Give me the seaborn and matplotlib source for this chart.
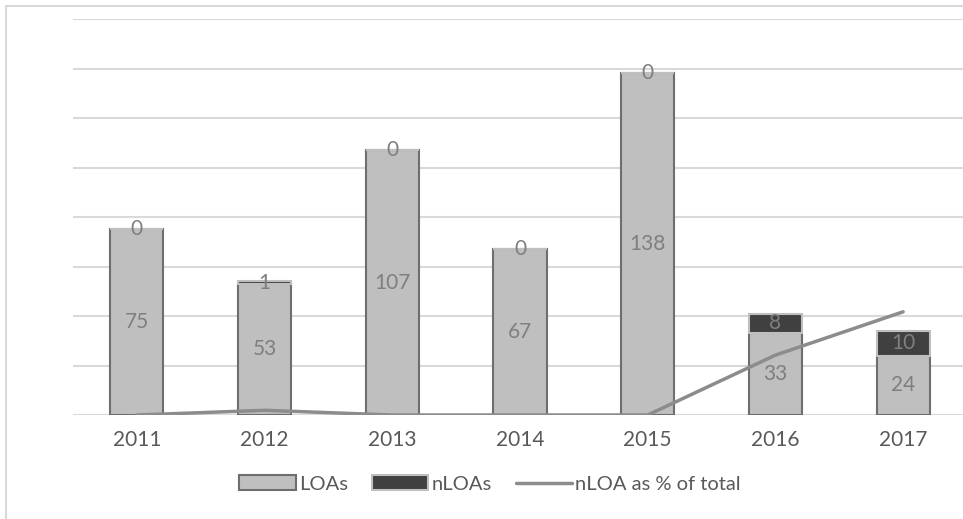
import numpy as np
import pandas as pd
import seaborn as sns
import matplotlib.pyplot as plt
from matplotlib.patches import Patch, Rectangle
from matplotlib.lines import Line2D

years = ["2011", "2012", "2013", "2014", "2015", "2016", "2017"]
loas = [75, 53, 107, 67, 138, 33, 24]
nloas = [0, 1, 0, 0, 0, 8, 10]
nloa_pct = [0, 1.9, 0, 0, 0, 24.2, 41.7]

df = pd.DataFrame({"year": years, "LOAs": loas, "nLOAs": nloas, "pct": nloa_pct})

sns.set_style("white")
plt.rcParams["font.family"] = ["Lato", "DejaVu Sans"]

fig = plt.figure(figsize=(9.63, 5.19), dpi=100)
ax = fig.add_axes([73 / 963, 1 - 415 / 519, 894 / 963, 396 / 519])

# outer chart frame
fig.patches.append(Rectangle((6 / 963, -0.02), 1.0, 1 - 6 / 519 + 0.02,
                             transform=fig.transFigure, fill=False,
                             edgecolor="#d9d9d9", lw=1.5))

sns.barplot(data=df, x="year", y="LOAs", color="#bfbfbf", width=0.415,
            edgecolor="#6e6e6e", linewidth=1.5, ax=ax, zorder=3, saturation=1)
sns.barplot(data=df, x="year", y="nLOAs", bottom=df["LOAs"], color="#404040",
            width=0.415, edgecolor="#bfbfbf", linewidth=1.5, ax=ax, zorder=3,
            saturation=1)
sns.lineplot(data=df, x="year", y="pct", color="#8c8c8c", lw=2.5, ax=ax,
             zorder=4, sort=False)

# data labels
for i in range(len(years)):
    ax.text(i, loas[i] / 2, str(loas[i]), ha="center", va="center",
            fontsize=15, color="#7f7f7f", zorder=5)
    ax.text(i, loas[i] + nloas[i] / 2, str(nloas[i]), ha="center",
            va="center", fontsize=15, color="#7f7f7f", zorder=5)

ax.set_ylim(0, 160)
ax.set_xlim(-0.5, 6.5)
ax.set_yticks(np.arange(0, 161, 20))
ax.set_yticklabels([])
ax.yaxis.grid(True, color="#d9d9d9", lw=1.5, zorder=0)
ax.tick_params(axis="both", length=0)
ax.tick_params(axis="x", labelsize=15, labelcolor="#595959", pad=11)
ax.set_xlabel("")
ax.set_ylabel("")
for s in ax.spines.values():
    s.set_visible(False)

handles = [
    Patch(facecolor="#bfbfbf", edgecolor="#6e6e6e", lw=1.5, label="LOAs"),
    Patch(facecolor="#404040", edgecolor="#bfbfbf", lw=1.5, label="nLOAs"),
    Line2D([0], [0], color="#8c8c8c", lw=2.5, label="nLOA as % of total"),
]
fig.legend(handles=handles, loc="center", bbox_to_anchor=(490 / 963, 1 - 484 / 519),
           ncol=3, frameon=False, fontsize=14.5, labelcolor="#595959",
           handlelength=2.8, handleheight=0.7, columnspacing=1.2,
           handletextpad=0.15)

fig.savefig("out.png", dpi=100)
